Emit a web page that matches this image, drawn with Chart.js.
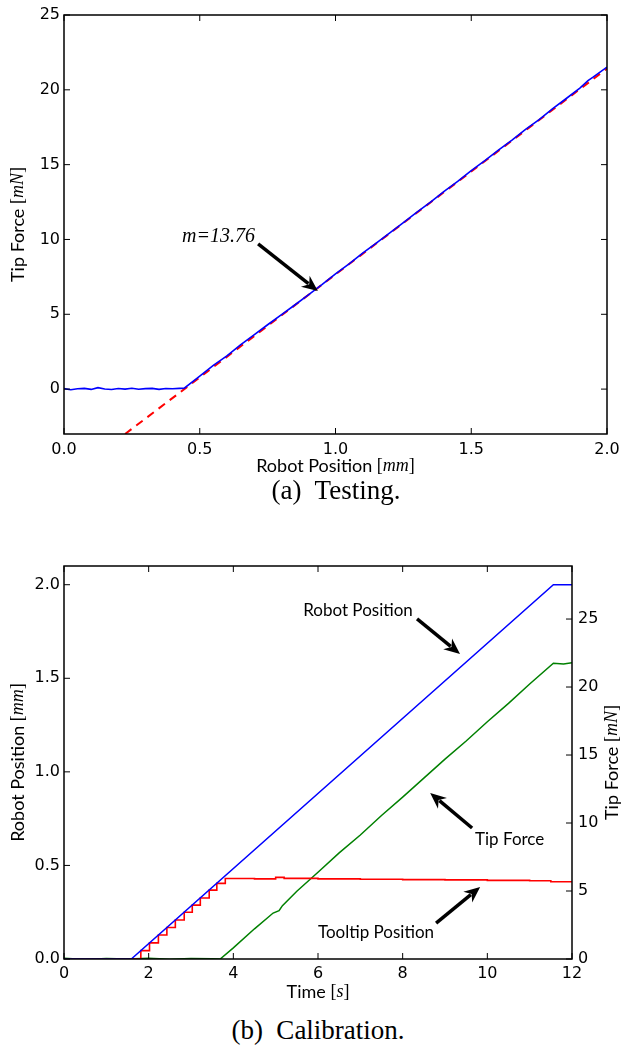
<!DOCTYPE html>
<html>
<head>
<meta charset="utf-8">
<script src="https://cdn.jsdelivr.net/npm/chart.js@4.4.1/dist/chart.umd.min.js"></script>
<style>
  body { margin: 0; background: #fff; width: 628px; height: 1050px; position: relative; overflow: hidden; }
  .wrap { position: absolute; left: 0; width: 628px; }
  #test-wrap { top: 0; height: 476px; }
  #cal-wrap { top: 520px; height: 485px; }
  .caption { position: absolute; width: 400px; text-align: center; font-family: "Liberation Serif", serif; font-size: 27px; line-height: 30px; color: #000; white-space: pre; }
</style>
</head>
<body>
<div class="wrap" id="test-wrap"><canvas id="test-chart"></canvas></div>
<div class="caption" style="left:136px; top:475px;">(a)  Testing.</div>
<div class="wrap" id="cal-wrap"><canvas id="cal-chart"></canvas></div>
<div class="caption" style="left:118px; top:1015px;">(b)  Calibration.</div>
<script>
// (a) Testing: tip force vs robot position
const testPos = [0.00, 0.025, 0.05, 0.075, 0.10, 0.125, 0.15, 0.175, 0.20, 0.225, 0.25, 0.275, 0.30, 0.325, 0.35, 0.375, 0.40, 0.425, 0.443,
  0.50, 0.55, 0.60, 0.65, 0.70, 0.75, 0.80, 0.85, 0.90, 0.95, 1.00, 1.05, 1.10, 1.15, 1.20, 1.25, 1.30, 1.35, 1.40, 1.45,
  1.50, 1.55, 1.60, 1.65, 1.70, 1.75, 1.80, 1.85, 1.90, 1.93, 1.95, 2.00];
const testForce = [0.03, -0.04, 0.02, 0.05, -0.02, 0.10, 0.01, -0.03, 0.04, 0.00, 0.06, -0.01, 0.03, 0.05, -0.02, 0.04, 0.02, 0.05, 0.06,
  0.86, 1.58, 2.22, 2.95, 3.62, 4.30, 4.96, 5.62, 6.30, 6.98, 7.70, 8.37, 9.08, 9.76, 10.44, 11.12, 11.83, 12.50, 13.22, 13.88,
  14.60, 15.27, 15.97, 16.64, 17.35, 18.01, 18.74, 19.42, 20.12, 20.62, 20.86, 21.52];
const fitPos = [0.225, 2.00];
const fitForce = [-3.0, 21.42];
const testXTicks = [0, 0.5, 1.0, 1.5, 2.0];
const testYTicks = [0, 5, 10, 15, 20, 25];

// (b) Calibration: robot position, tip force and tooltip position vs time
const robotTime = [0, 1.59, 11.56, 12];
const robotPos = [0, 0, 2.0, 2.0];
const forceTime = [0, 0.5, 1.0, 1.5, 2.0, 2.5, 3.0, 3.5, 3.69, 4.0, 4.5, 4.94, 5.08, 5.16, 5.5, 6.0, 6.5, 7.0, 7.5, 8.0, 8.5, 9.0, 9.5, 10.0, 10.5, 11.0, 11.56, 11.8, 12.0];
const forceVal = [0.05, -0.03, 0.04, 0.00, 0.06, -0.02, 0.03, 0.01, 0.00, 0.82, 2.22, 3.38, 3.55, 3.92, 4.98, 6.38, 7.80, 9.12, 10.55, 11.90, 13.30, 14.70, 16.03, 17.45, 18.80, 20.22, 21.75, 21.70, 21.78];
const tooltipTime = [0, 1.815, 2.02, 2.23, 2.43, 2.63, 2.84, 3.03, 3.22, 3.43, 3.61, 3.81, 4.5, 5.0, 5.2, 6.0, 7.0, 8.0, 9.0, 10.0, 11.0, 11.5, 12.0];
const tooltipPos = [0, 0.045, 0.086, 0.128, 0.168, 0.208, 0.250, 0.288, 0.326, 0.368, 0.404, 0.430, 0.428, 0.436, 0.431, 0.428, 0.426, 0.424, 0.423, 0.420, 0.418, 0.413, 0.415];
const calXTicks = [0, 2, 4, 6, 8, 10, 12];
const calYTicks = [0, 0.5, 1.0, 1.5, 2.0];
const calForceTicks = [0, 5, 10, 15, 20, 25];

const tickFont = { family: 'DejaVu Sans', size: 16 };
const SANS = '18px Lato';
const MATH = 'italic 18px "Liberation Serif"';
const BR = '18px "Liberation Serif"';

function points(xs, ys) {
  return xs.map((x, i) => ({ x: x, y: ys[i] }));
}

function richText(ctx, parts, x, y, angle) {
  ctx.save();
  ctx.translate(x, y);
  ctx.rotate(angle);
  let w = 0;
  parts.forEach(p => { ctx.font = p[1]; w += ctx.measureText(p[0]).width; });
  let cx = -w / 2;
  ctx.textBaseline = 'middle';
  ctx.textAlign = 'left';
  ctx.fillStyle = '#000';
  parts.forEach(p => { ctx.font = p[1]; ctx.fillText(p[0], cx, 0); cx += ctx.measureText(p[0]).width; });
  ctx.restore();
}

function arrow(ctx, x0, y0, x1, y1) {
  const a = Math.atan2(y1 - y0, x1 - x0), c = Math.cos(a), s = Math.sin(a);
  const hl = 16, hw = 7;
  const bx = x1 - hl * c, by = y1 - hl * s;
  ctx.strokeStyle = '#000';
  ctx.fillStyle = '#000';
  ctx.lineWidth = 3.5;
  ctx.beginPath();
  ctx.moveTo(x0, y0);
  ctx.lineTo(bx + 4 * c, by + 4 * s);
  ctx.stroke();
  ctx.beginPath();
  ctx.moveTo(x1, y1);
  ctx.lineTo(bx - hw * s, by + hw * c);
  ctx.lineTo(bx + 5 * c, by + 5 * s);
  ctx.lineTo(bx + hw * s, by - hw * c);
  ctx.closePath();
  ctx.fill();
}

// frame, inward ticks, axis titles and annotations
const frame = {
  id: 'frame',
  afterDraw(chart, args, opts) {
    const ctx = chart.ctx, a = chart.chartArea;
    const xs = chart.scales.x, ys = chart.scales.y, y2 = chart.scales.y2;
    ctx.save();
    ctx.strokeStyle = '#000';
    ctx.lineWidth = 1;
    const len = 6;
    const seg = (x0, y0, x1, y1) => { ctx.beginPath(); ctx.moveTo(x0, y0); ctx.lineTo(x1, y1); ctx.stroke(); };
    xs.ticks.forEach(t => {
      const p = xs.getPixelForValue(t.value);
      seg(p, a.bottom, p, a.bottom - len);
      seg(p, a.top, p, a.top + len);
    });
    ys.ticks.forEach(t => {
      const p = ys.getPixelForValue(t.value);
      seg(a.left, p, a.left + len, p);
      if (!y2) seg(a.right, p, a.right - len, p);
    });
    if (y2) y2.ticks.forEach(t => {
      const p = y2.getPixelForValue(t.value);
      seg(a.right, p, a.right - len, p);
    });
    ctx.lineWidth = 1.5;
    ctx.strokeRect(a.left, a.top, a.right - a.left, a.bottom - a.top);

    richText(ctx, opts.xTitle, (a.left + a.right) / 2, a.bottom + opts.xTitleGap, 0);
    richText(ctx, opts.yTitle, 18, (a.top + a.bottom) / 2, -Math.PI / 2);
    if (opts.y2Title) richText(ctx, opts.y2Title, 612, (a.top + a.bottom) / 2, -Math.PI / 2);

    opts.notes.forEach(n => {
      ctx.font = n.font;
      ctx.fillStyle = '#000';
      ctx.textAlign = 'left';
      ctx.textBaseline = 'middle';
      ctx.fillText(n.text, xs.getPixelForValue(n.at[0]), ys.getPixelForValue(n.at[1]));
      arrow(ctx, xs.getPixelForValue(n.from[0]), ys.getPixelForValue(n.from[1]),
        xs.getPixelForValue(n.to[0]), ys.getPixelForValue(n.to[1]));
    });
    ctx.restore();
  }
};

function axis(min, max, tickList, fmt, padding, extra) {
  return Object.assign({
    type: 'linear', min: min, max: max,
    grid: { display: false, drawTicks: false },
    border: { display: false },
    afterBuildTicks: s => { s.ticks = tickList.map(v => ({ value: v })); },
    ticks: { font: tickFont, color: '#000', padding: padding, maxRotation: 0, autoSkip: false, callback: fmt }
  }, extra);
}

new Chart(document.getElementById('test-chart'), {
  type: 'line',
  data: {
    datasets: [{
      label: 'Measured',
      data: points(testPos, testForce),
      borderColor: '#0000ff',
      borderWidth: 1.6,
      pointRadius: 0,
      tension: 0
    },
    {
      label: 'Fit',
      data: points(fitPos, fitForce),
      borderColor: '#ff0000',
      borderWidth: 2,
      borderDash: [8, 6],
      pointRadius: 0
    }]
  },
  options: {
    responsive: true,
    maintainAspectRatio: false,
    animation: false,
    layout: { padding: { top: 15, right: 21, left: 0, bottom: 0 } },
    plugins: {
      legend: { display: false },
      tooltip: { enabled: false },
      frame: {
        xTitle: [['Robot Position ', SANS], ['[', BR], ['mm', MATH], [']', BR]],
        xTitleGap: 32,
        yTitle: [['Tip Force ', SANS], ['[', BR], ['mN', MATH], [']', BR]],
        notes: [{ text: 'm=13.76', font: 'italic 20px "Liberation Serif"', at: [0.435, 10.16], from: [0.715, 9.70], to: [0.935, 6.55] }]
      }
    },
    scales: {
      x: axis(0, 2, testXTicks, v => v.toFixed(1), 6, { afterFit: s => { s.height = 42; } }),
      y: axis(-3, 25, testYTicks, v => v, 4, { afterFit: s => { s.width = 64; } })
    }
  },
  plugins: [frame]
});

new Chart(document.getElementById('cal-chart'), {
  type: 'line',
  data: {
    datasets: [{
      label: 'Robot Position',
      data: points(robotTime, robotPos),
      borderColor: '#0000ff',
      borderWidth: 1.5,
      pointRadius: 0,
      yAxisID: 'y'
    },
    {
      label: 'Tooltip Position',
      data: points(tooltipTime, tooltipPos),
      borderColor: '#ff0000',
      borderWidth: 1.6,
      pointRadius: 0,
      stepped: 'before',
      yAxisID: 'y'
    },
    {
      label: 'Tip Force',
      data: points(forceTime, forceVal),
      borderColor: '#008000',
      borderWidth: 1.5,
      pointRadius: 0,
      yAxisID: 'y2'
    }]
  },
  options: {
    responsive: true,
    maintainAspectRatio: false,
    animation: false,
    layout: { padding: { top: 46, right: 0, left: 0, bottom: 0 } },
    plugins: {
      legend: { display: false },
      tooltip: { enabled: false },
      frame: {
        xTitle: [['Time ', SANS], ['[', BR], ['s', MATH], [']', BR]],
        xTitleGap: 33,
        yTitle: [['Robot Position ', SANS], ['[', BR], ['mm', MATH], [']', BR]],
        y2Title: [['Tip Force ', SANS], ['[', BR], ['mN', MATH], [']', BR]],
        notes: [
          { text: 'Robot Position', font: '17px Lato', at: [5.65, 1.86], from: [8.34, 1.817], to: [9.355, 1.63] },
          { text: 'Tip Force', font: '17px Lato', at: [9.71, 0.636], from: [9.64, 0.70], to: [8.65, 0.887] },
          { text: 'Tooltip Position', font: '17px Lato', at: [6.0, 0.139], from: [8.79, 0.192], to: [9.83, 0.385] }
        ]
      }
    },
    scales: {
      x: axis(0, 12, calXTicks, v => v, 5, { afterFit: s => { s.height = 46; } }),
      y: axis(0, 2.1, calYTicks, v => v.toFixed(1), 4, { afterFit: s => { s.width = 64; } }),
      y2: axis(0, 28.9, calForceTicks, v => v, 6, { position: 'right', afterFit: s => { s.width = 56; } })
    }
  },
  plugins: [frame]
});
</script>
</body>
</html>
